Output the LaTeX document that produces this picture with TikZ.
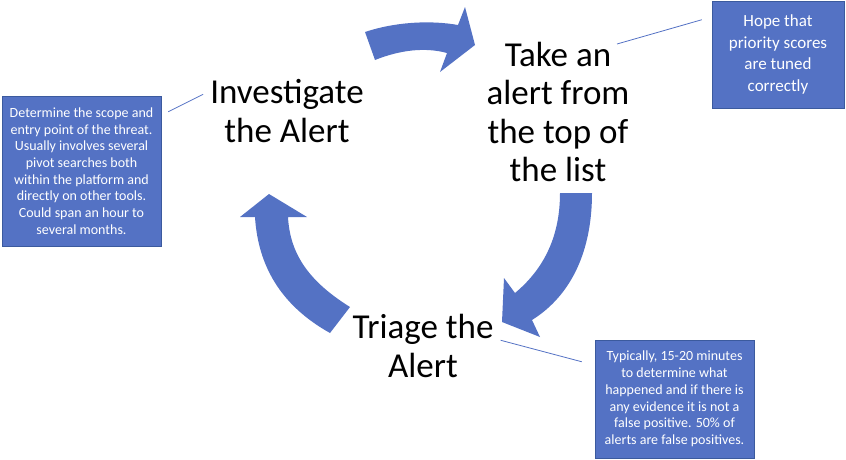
\documentclass[tikz,border=0pt]{standalone}
\usepackage{fontspec}
\setmainfont{Carlito}
\usetikzlibrary{positioning}
\definecolor{alertblue}{HTML}{5472C4}
\definecolor{alertedge}{HTML}{3B5A9E}
\tikzset{
  steptext/.style={align=center, inner sep=0pt, font=\fontsize{35}{38.5}\selectfont},
  notebox/.style={draw=alertedge, fill=alertblue, text=white, align=center, line width=0.5pt, inner sep=0pt},
  smallnote/.style={notebox, font=\fontsize{14}{16.7}\selectfont},
  bignote/.style={notebox, font=\fontsize{17}{21.6}\selectfont},
  noteline/.style={draw=alertblue, line width=0.8pt},
  cyclearrow/.style={fill=alertblue, draw=none}
}

\begin{document}
\begin{tikzpicture}[x=1pt,y=-1pt]
\useasboundingbox (0,0) rectangle (846,459);
% the three steps
\node[steptext] (investigate) at (287,111) {Investigate\\the Alert};
\node[steptext] (takealert) at (558,112) {Take an\\alert from\\the top of\\the list};
\node[steptext] (triage) at (423,346) {Triage the\\Alert};
% notes
\node[smallnote, minimum width=159pt, minimum height=150pt] (scopenote) at (81.5,171)
  {Determine the scope and\\entry point of the threat.\\Usually involves several\\pivot searches both\\within the platform and\\directly on other tools.\\Could span an hour to\\several months.};
\node[bignote, minimum width=132pt, minimum height=107pt] (hopenote) at (778,54.5)
  {Hope that\\priority scores\\are tuned\\correctly};
\node[smallnote, minimum width=159pt, minimum height=118pt] (timenote) at (674.5,399)
  {Typically, 15-20 minutes\\to determine what\\happened and if there is\\any evidence it is not a\\false positive. 50\% of\\alerts are false positives.};
\coordinate (takepin) at (617,44);
\draw[noteline] ([shift={(7,16)}]scopenote.north east) -- ([shift={(-7,15)}]investigate.north west);
\draw[noteline] (takepin) -- ([shift={(-10,19)}]hopenote.north west);
\draw[noteline] ([shift={(7,26)}]triage.north east) -- ([shift={(-13,22)}]timenote.north west);
% cycle arrows
\fill[cyclearrow] (365,32) .. controls (395,22) and (430,20) .. (458,25) -- (465,7) -- (475,45)
  -- (440,72) -- (447,53) .. controls (425,47) and (400,50) .. (375,60) -- cycle;
\fill[cyclearrow] (560,193) -- (592,193) .. controls (592,250) and (572,295) .. (532,320)
  -- (540,337) -- (502,322) -- (504,278) -- (515,293) .. controls (545,268) and (560,235) .. (560,193) -- cycle;
\fill[cyclearrow] (330,333) -- (350,307) .. controls (310,282) and (290,255) .. (288,217)
  -- (307,217) -- (269,194) -- (240,217) -- (255,217) .. controls (258,265) and (280,305) .. (330,333) -- cycle;
\end{tikzpicture}
\end{document}
